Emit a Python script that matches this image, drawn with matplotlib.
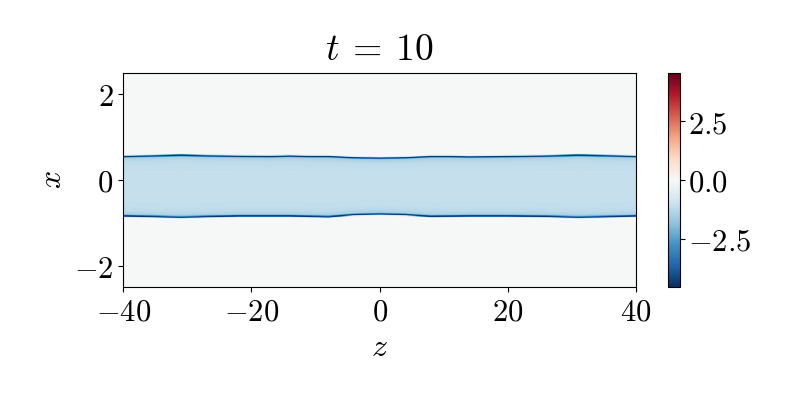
import numpy as np
import matplotlib
matplotlib.use("Agg")
import matplotlib.pyplot as plt

plt.rcParams["mathtext.fontset"] = "cm"
plt.rcParams["font.family"] = "serif"
plt.rcParams["font.serif"] = ["DejaVu Serif"]

# interface positions
z_nodes = [-40, -35, -31, -27, -22, -17, -14, -11, -8, -4, 0, 4, 8, 11, 14, 17, 20, 26, 31, 36, 40]
upper_edge = [0.55, 0.565, 0.58, 0.565, 0.555, 0.55, 0.56, 0.55, 0.55, 0.52, 0.51, 0.52, 0.55, 0.55, 0.54, 0.545, 0.55, 0.56, 0.58, 0.565, 0.55]
lower_edge = [-0.84, -0.855, -0.87, -0.855, -0.84, -0.84, -0.84, -0.85, -0.86, -0.81, -0.795, -0.81, -0.85, -0.845, -0.84, -0.84, -0.84, -0.85, -0.87, -0.855, -0.84]

background_value = -0.03
interior_value = -1.1
edge_value = -4.4
vlim = 4.57

z = np.linspace(-40, 40, 801)
x = np.linspace(-2.5, 2.5, 601)
Z, X = np.meshgrid(z, x)
up = np.interp(z, z_nodes, upper_edge)[None, :]
lo = np.interp(z, z_nodes, lower_edge)[None, :]

inside = (X < up) & (X > lo)
dist = np.minimum(np.abs(X - up), np.abs(X - lo))
field = np.where(inside, interior_value - 0.8 * np.exp(-dist / 0.07), background_value)
field = field + (edge_value - field) * np.exp(-(dist / 0.022) ** 2)

fig = plt.figure(figsize=(8, 4), dpi=100)
ax = fig.add_axes([0.154, 0.2825, 0.641, 0.535])
cax = fig.add_axes([0.835, 0.2825, 0.015, 0.535])

mesh = ax.pcolormesh(Z, X, field, cmap="RdBu_r", vmin=-vlim, vmax=vlim,
                     shading="auto", rasterized=True)
ax.set_xlim(-40, 40)
ax.set_ylim(-2.5, 2.5)
ax.set_xticks([-40, -20, 0, 20, 40])
ax.set_xticklabels(["$-40$", "$-20$", "$0$", "$20$", "$40$"])
ax.set_yticks([-2, 0, 2])
ax.set_yticklabels(["$-2$", "$0$", "$2$"])
ax.tick_params(labelsize=22)
ax.set_xlabel("$z$", fontsize=23, labelpad=3)
ax.set_ylabel("$x$", fontsize=23, labelpad=4)
ax.set_title("$t\\:=\\:10$", fontsize=27, pad=9)

cb = fig.colorbar(mesh, cax=cax)
cb.set_ticks([-2.5, 0, 2.5])
cb.set_ticklabels(["$-2.5$", "$0.0$", "$2.5$"])
cb.ax.tick_params(labelsize=22, pad=2)

fig.savefig("out.png", dpi=100)
